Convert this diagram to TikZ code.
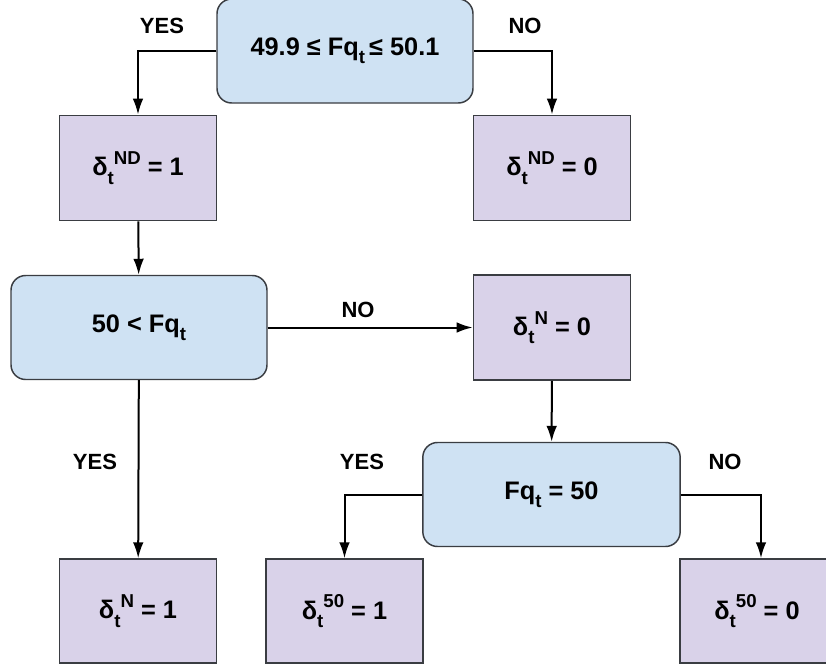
\documentclass[tikz,border=0pt]{standalone}
\usepackage{fontspec}
\setmainfont{Liberation Sans}
\usetikzlibrary{arrows.meta}

\definecolor{testblue}{HTML}{CFE2F3}
\definecolor{valpurple}{HTML}{D9D2E9}
\definecolor{edgegray}{HTML}{3A3D42}

% small raised / lowered pieces
\newcommand{\lowt}{\raisebox{-0.32em}{\fontsize{14}{14}\selectfont t}}
\newcommand{\highs}[1]{\raisebox{0.45em}{\fontsize{14}{14}\selectfont #1}}
% delta with subscript t and a superscript after it
\newcommand{\dlt}[1]{δ\lowt\highs{#1}}
\newcommand{\fqt}{Fq\lowt}

\tikzset{
    test/.style={draw=edgegray, line width=1.1pt, fill=testblue, rounded corners=11pt,
        minimum width=192pt, minimum height=78pt, font=\bfseries\fontsize{19}{22}\selectfont},
    value/.style={draw=edgegray, line width=1.1pt, fill=valpurple,
        minimum width=118pt, minimum height=79pt, font=\bfseries\fontsize{19}{22}\selectfont},
    answer/.style={font=\bfseries\fontsize{16.5}{19}\selectfont},
    flow/.style={line width=1.5pt, -{Latex[length=12pt,width=8pt]}}
}

\begin{document}
\begin{tikzpicture}[x=0.75pt,y=-0.75pt]
    \useasboundingbox (0,0) rectangle (826,668);

    % tests
    \node[test] (band) at (345,51) {49.9 ≤ \fqt\,≤ 50.1};
    \node[test] (above) at (139,327.5) {50 < \fqt};
    \node[test, minimum width=193pt] (equal) at (551.5,494.5) {\fqt\ = 50};

    % values
    \node[value] (nd1) at (138,168) {\dlt{ND} = 1};
    \node[value] (nd0) at (552,168) {\dlt{ND} = 0};
    \node[value] (n0) at (552,327.5) {\dlt{N} = 0};
    \node[value, minimum height=78pt] (n1) at (138,611) {\dlt{N} = 1};
    \node[value, minimum height=78pt] (f1) at (344.5,611) {\dlt{50} = 1};
    \node[value, minimum height=78pt, minimum width=115.5pt] (f0) at (757,611) {\dlt{50} = 0};

    % connectors
    \draw[flow] (band.west) -| (nd1.north);
    \draw[flow] (band.east) -| (nd0.north);
    \draw[flow] (nd1) -- (above);
    \draw[flow] (above) -- (n0);
    \draw[flow] (above) -- (n1);
    \draw[flow] (n0) -- (equal);
    \draw[flow] (equal.west) -| (f1.north);
    \draw[flow] (equal.east) -| ([xshift=3pt]f0.north);

    % branch labels
    \node[answer] (y1) at (162,26) {YES};
    \node[answer] (n1lab) at (525,26) {NO};
    \node[answer] (n2lab) at (358,310) {NO};
    \node[answer] (y2) at (95,462) {YES};
    \node[answer] (y3) at (362,462) {YES};
    \node[answer] (n3lab) at (725,462) {NO};
\end{tikzpicture}
\end{document}
